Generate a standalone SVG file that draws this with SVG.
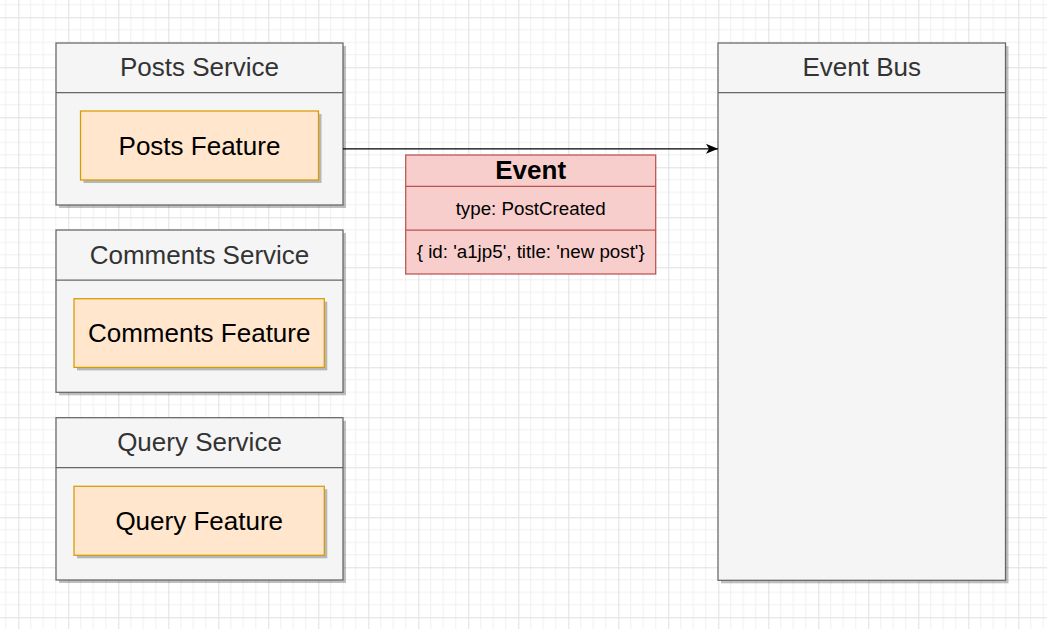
<svg xmlns="http://www.w3.org/2000/svg" width="1047" height="629" viewBox="0 0 1047 629">
<style>
.svc{fill:#f5f5f5;stroke:#666666;stroke-width:1.25}
.feat{fill:#ffe6cc;stroke:#d79b00;stroke-width:1.25}
.shadow{fill:#000;opacity:0.25}
.hdr{font-family:"Liberation Sans",Arial,sans-serif;font-size:26px;fill:#333333;text-anchor:middle}
.ftxt{font-family:"Liberation Sans",Arial,sans-serif;font-size:26px;fill:#000000;text-anchor:middle}
.ev{fill:#f8cecc;stroke:#b85450;stroke-width:1.25}
.etxt{font-family:"Liberation Sans",Arial,sans-serif;font-size:18.75px;fill:#000000;text-anchor:middle}
.ehdr{font-family:"Liberation Sans",Arial,sans-serif;font-size:26px;font-weight:bold;fill:#000000;text-anchor:middle}
.conn{stroke:#000000;stroke-width:1.25;fill:none}
</style>
<defs>
<pattern id="grid" patternUnits="userSpaceOnUse" x="18.3" y="17.3" width="50" height="50">
<path d="M12.5 0V50M25 0V50M37.5 0V50M0 12.5H50M0 25H50M0 37.5H50" stroke="#f0f0f0" stroke-width="1" fill="none"/>
<path d="M0.5 0V50M0 0.5H50" stroke="#e0e0e0" stroke-width="1" fill="none"/>
</pattern>
<marker id="arrow" viewBox="0 0 12 10" refX="12" refY="5" markerWidth="12" markerHeight="10" markerUnits="userSpaceOnUse" orient="auto">
<path d="M0 0L12 5L0 10L3 5Z" fill="#000000"/>
</marker>
</defs>
<rect x="0" y="0" width="1047" height="629" fill="#ffffff"/>
<rect x="0" y="0" width="1047" height="629" fill="url(#grid)"/>

<g id="posts-service">
<rect class="shadow" x="59" y="46" width="287" height="162"/>
<rect class="svc" x="56" y="43" width="287" height="162"/>
<line x1="56" y1="92.5" x2="343" y2="92.5" stroke="#666666" stroke-width="1.25"/>
<text class="hdr" x="199.5" y="76.3">Posts Service</text>
<g id="posts-feature">
<rect class="shadow" x="83.5" y="114" width="238" height="69"/>
<rect class="feat" x="80.5" y="111" width="238" height="69"/>
<text class="ftxt" x="199.5" y="154.6">Posts Feature</text>
</g>
</g>

<g id="comments-service">
<rect class="shadow" x="59" y="233" width="287" height="162.3"/>
<rect class="svc" x="56" y="230" width="287" height="162.3"/>
<line x1="56" y1="280" x2="343" y2="280" stroke="#666666" stroke-width="1.25"/>
<text class="hdr" x="199.5" y="263.8">Comments Service</text>
<g id="comments-feature">
<rect class="shadow" x="77" y="301.7" width="250.3" height="68.7"/>
<rect class="feat" x="74" y="298.7" width="250.3" height="68.7"/>
<text class="ftxt" x="199.2" y="342.1">Comments Feature</text>
</g>
</g>

<g id="query-service">
<rect class="shadow" x="59" y="420.7" width="287" height="162.3"/>
<rect class="svc" x="56" y="417.7" width="287" height="162.3"/>
<line x1="56" y1="467.5" x2="343" y2="467.5" stroke="#666666" stroke-width="1.25"/>
<text class="hdr" x="199.5" y="451.3">Query Service</text>
<g id="query-feature">
<rect class="shadow" x="77" y="489.3" width="250.3" height="69"/>
<rect class="feat" x="74" y="486.3" width="250.3" height="69"/>
<text class="ftxt" x="199.2" y="529.8">Query Feature</text>
</g>
</g>

<g id="event-bus">
<rect class="shadow" x="721" y="46" width="287.5" height="537.3"/>
<rect class="svc" x="718" y="43" width="287.5" height="537.3"/>
<line x1="718" y1="92.5" x2="1005.5" y2="92.5" stroke="#666666" stroke-width="1.25"/>
<text class="hdr" x="861.7" y="76.3">Event Bus</text>
</g>

<g id="event">
<rect class="ev" x="405.7" y="155" width="250" height="119"/>
<line x1="405.7" y1="186.3" x2="655.7" y2="186.3" stroke="#b85450" stroke-width="1.25"/>
<line x1="405.7" y1="230" x2="655.7" y2="230" stroke="#b85450" stroke-width="1.25"/>
<text class="ehdr" x="530.7" y="179.3">Event</text>
<text class="etxt" x="530.7" y="214.5">type: PostCreated</text>
<text class="etxt" x="530.7" y="258.3">{ id: 'a1jp5', title: 'new post'}</text>
</g>

<g id="connectors">
<line class="conn" x1="343" y1="148.8" x2="718" y2="148.8" marker-end="url(#arrow)"/>
</g>
</svg>
